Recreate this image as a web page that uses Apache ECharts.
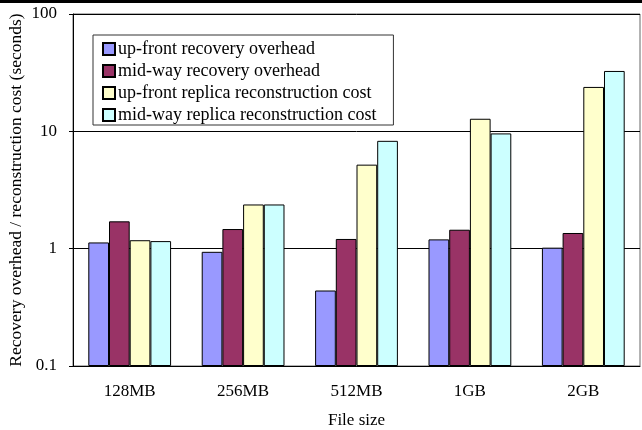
<!DOCTYPE html>
<html>
<head>
<meta charset="utf-8">
<script src="https://cdn.jsdelivr.net/npm/echarts@6/dist/echarts.min.js"></script>
<style>
  html, body { margin: 0; padding: 0; background: #fff; }
  #main { width: 642px; height: 430px; }
</style>
</head>
<body>
<div id="main"></div>
<script>
var categories = ['128MB', '256MB', '512MB', '1GB', '2GB'];
var seriesNames = [
    'up-front recovery overhead',
    'mid-way recovery overhead',
    'up-front replica reconstruction cost',
    'mid-way replica reconstruction cost'
];
var upfrontRecovery = [1.13, 0.94, 0.44, 1.20, 1.02];
var midwayRecovery = [1.71, 1.47, 1.21, 1.45, 1.36];
var upfrontReplica = [1.18, 2.38, 5.2, 12.8, 23.9];
var midwayReplica = [1.16, 2.38, 8.3, 9.6, 32.7];

var colors = ['#9999ff', '#993366', '#ffffcc', '#ccffff'];
var serif = '"Liberation Serif", "Times New Roman", serif';

var chart = echarts.init(document.getElementById('main'));

function bar(name, values, i) {
    return {
        name: name,
        type: 'bar',
        data: values,
        barGap: '0%',
        barCategoryGap: '27%',
        itemStyle: {
            color: colors[i],
            borderColor: '#000',
            borderWidth: 1
        }
    };
}

var option = {
    animation: false,
    textStyle: { fontFamily: serif },
    grid: {
        left: 73, right: 2, top: 14, bottom: 64,
        outerBoundsMode: 'none', containLabel: false,
        show: true, borderColor: '#666', borderWidth: 1
    },
    legend: {
        orient: 'vertical',
        left: 93,
        top: 35,
        itemWidth: 12,
        itemHeight: 12,
        itemGap: 4,
        icon: 'rect',
        padding: [5, 17, 1, 9],
        borderColor: '#333',
        borderWidth: 1,
        textStyle: { fontFamily: serif, fontSize: 18, color: '#000', padding: [0, 0, 0, -2] },
        data: seriesNames
    },
    xAxis: {
        type: 'category',
        data: categories,
        name: 'File size',
        nameLocation: 'middle',
        nameGap: 46,
        nameMoveOverlap: false,
        nameTextStyle: { fontFamily: serif, fontSize: 17, color: '#000' },
        axisLine: { lineStyle: { color: '#000', width: 1 } },
        axisTick: { inside: true, length: 5, lineStyle: { color: '#000' } },
        axisLabel: { fontFamily: serif, fontSize: 17, color: '#000', margin: 17 }
    },
    yAxis: {
        type: 'log',
        logBase: 10,
        min: 0.1,
        max: 100,
        startValue: 0.1,
        name: 'Recovery overhead / reconstruction cost (seconds)',
        nameLocation: 'middle',
        nameGap: 48,
        nameMoveOverlap: false,
        nameTextStyle: { fontFamily: serif, fontSize: 17.5, color: '#000' },
        axisLine: { show: true, lineStyle: { color: '#000', width: 1 } },
        axisTick: { show: true, length: 4, lineStyle: { color: '#000' } },
        axisLabel: { fontFamily: serif, fontSize: 17, color: '#000', margin: 16 },
        splitLine: { lineStyle: { color: '#000', width: 1 } }
    },
    graphic: [
        { type: 'rect', left: 0, top: 0, shape: { width: 642, height: 3 }, style: { fill: '#000' } }
    ],
    series: [
        bar(seriesNames[0], upfrontRecovery, 0),
        bar(seriesNames[1], midwayRecovery, 1),
        bar(seriesNames[2], upfrontReplica, 2),
        bar(seriesNames[3], midwayReplica, 3)
    ]
};

chart.setOption(option);
window.addEventListener('resize', chart.resize);
</script>
</body>
</html>
